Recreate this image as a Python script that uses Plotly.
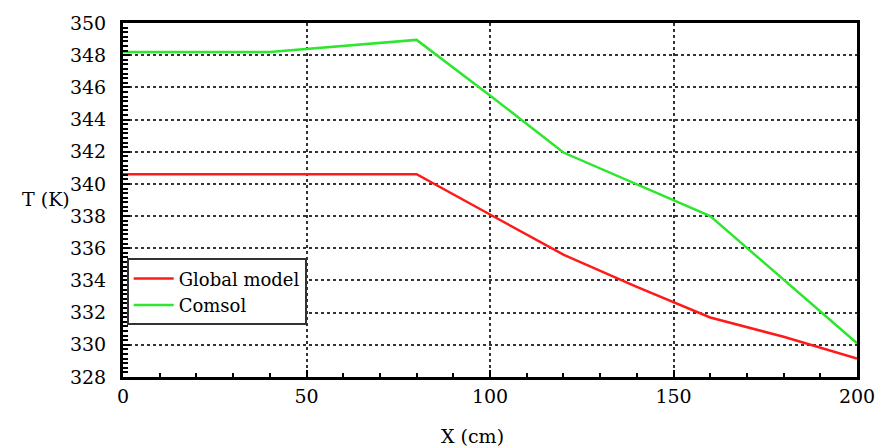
import plotly.graph_objects as go

# Data
x_global = [0, 80, 100, 120, 140, 160, 180, 200]
t_global = [340.6, 340.6, 338.1, 335.6, 333.6, 331.7, 330.5, 329.15]

x_comsol = [0, 40, 80, 100, 120, 140, 160, 200]
t_comsol = [348.2, 348.2, 348.95, 345.5, 341.95, 340.0, 338.0, 330.1]

x_ticks = [0, 50, 100, 150, 200]
y_ticks = list(range(328, 351, 2))

FONT = "DejaVu Serif"

fig = go.Figure()
fig.add_trace(go.Scatter(x=x_global, y=t_global, mode="lines", name="Global model",
                         line=dict(color="#ff1a1a", width=2.5)))
fig.add_trace(go.Scatter(x=x_comsol, y=t_comsol, mode="lines", name="Comsol",
                         line=dict(color="#2ee62e", width=2.5)))

fig.update_layout(
    width=891, height=448,
    margin=dict(l=123, r=34, t=19, b=71),
    paper_bgcolor="white", plot_bgcolor="white",
    font=dict(family=FONT, color="black", size=19),
    showlegend=True,
    legend=dict(x=0.005, y=0.335, xanchor="left", yanchor="top",
                bgcolor="white", bordercolor="#333333", borderwidth=2,
                font=dict(family=FONT, size=18, color="black"),
                entrywidth=162, tracegroupgap=0, itemwidth=40),
    xaxis=dict(range=[0, 200], tickvals=x_ticks, ticks="inside", ticklen=7, tickwidth=2,
               tickcolor="black", showline=True, linewidth=3, linecolor="black", mirror=True,
               showgrid=True, gridcolor="#333333", gridwidth=2, griddash="3px,3px",
               zeroline=False, tickfont=dict(size=19, family=FONT),
               minor=dict(dtick=10, ticks="inside", ticklen=4, tickwidth=2, tickcolor="black", showgrid=False)),
    yaxis=dict(range=[328, 350], tickvals=y_ticks, ticks="inside", ticklen=7, tickwidth=2,
               tickcolor="black", showline=True, linewidth=3, linecolor="black", mirror=True,
               showgrid=True, gridcolor="#333333", gridwidth=2, griddash="3px,3px",
               zeroline=False, tickfont=dict(size=19, family=FONT), ticklabelstandoff=10,
               minor=dict(dtick=2/7, tick0=328, ticks="inside", ticklen=5, tickwidth=2, tickcolor="black", showgrid=False)),
    annotations=[
        dict(text="T (K)", x=(46 - 123) / 734, y=(377 - 197) / 358, xref="paper", yref="paper",
             xanchor="center", yanchor="middle", showarrow=False,
             font=dict(size=19, family=FONT)),
        dict(text="X (cm)", x=(472 - 123) / 734, y=(377 - 437) / 358, xref="paper", yref="paper",
             xanchor="center", yanchor="middle", showarrow=False,
             font=dict(size=19, family=FONT)),
    ],
)

fig.write_html("out.html")
